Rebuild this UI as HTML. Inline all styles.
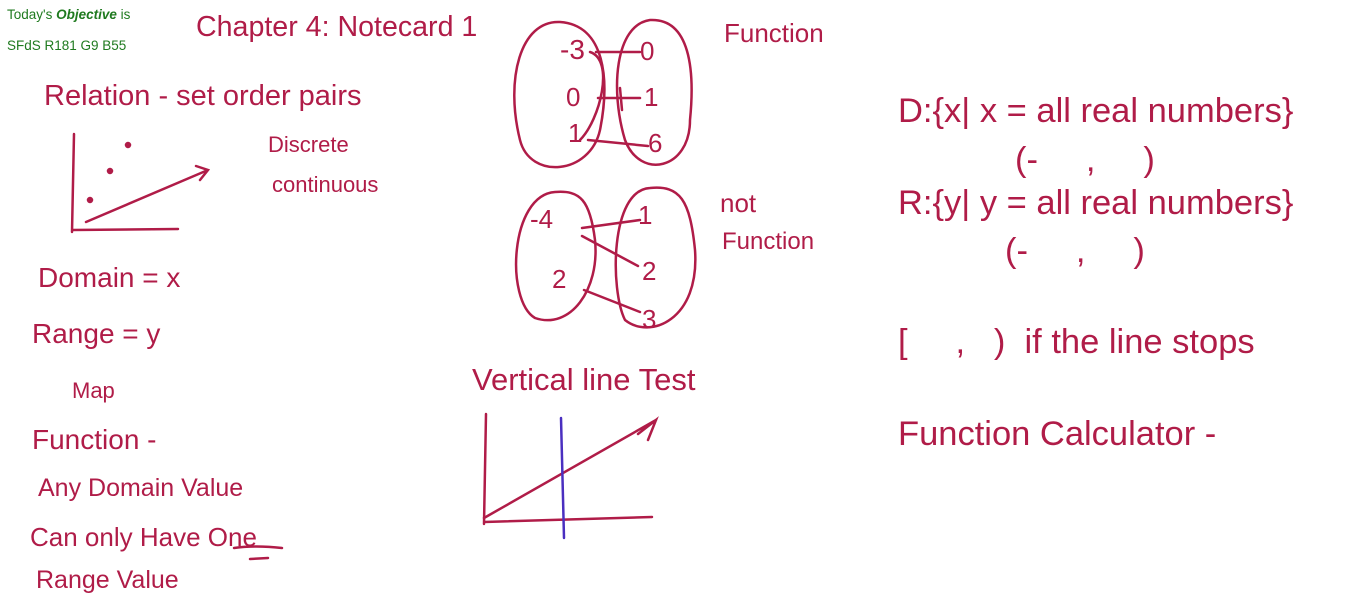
<!DOCTYPE html>
<html><head><meta charset="utf-8"><style>
body{margin:0;width:1366px;height:599px;background:#fff;overflow:hidden;position:relative;font-family:"Liberation Sans",sans-serif}
.t{position:absolute;white-space:pre;color:#b01c48}
.g{position:absolute;color:#1f7a1f;font-size:13.5px}
.h{position:absolute;color:#b01c48;font-family:"Liberation Sans",sans-serif;white-space:pre}
</style></head><body>
<div class="g" style="left:7px;top:7px">Today's <b><i>Objective</i></b> is</div>
<div class="g" style="left:7px;top:38px">SFdS R181 G9 B55</div>
<div class="t" style="left:196px;top:11px;font-size:28.6px">Chapter 4: Notecard 1</div>
<div class="t" style="left:898px;top:92px;font-size:34.5px">D:{x| x = all real numbers}</div>
<div class="t" style="left:1015px;top:141px;font-size:34.5px">(-     ,     )</div>
<div class="t" style="left:898px;top:184px;font-size:34.5px">R:{y| y = all real numbers}</div>
<div class="t" style="left:1005px;top:232px;font-size:34.5px">(-     ,     )</div>
<div class="t" style="left:898px;top:323px;font-size:34.5px">[     ,   )  if the line stops</div>
<div class="t" style="left:898px;top:415px;font-size:34.5px">Function Calculator -</div>

<div class="h" style="left:44px;top:80px;font-size:29px">Relation - set order pairs</div>
<div class="h" style="left:268px;top:132px;font-size:22px">Discrete</div>
<div class="h" style="left:272px;top:172px;font-size:22px">continuous</div>
<div class="h" style="left:38px;top:262px;font-size:28px">Domain = x</div>
<div class="h" style="left:32px;top:318px;font-size:28px">Range = y</div>
<div class="h" style="left:72px;top:378px;font-size:22px">Map</div>
<div class="h" style="left:32px;top:424px;font-size:28px">Function -</div>
<div class="h" style="left:38px;top:474px;font-size:25px">Any Domain Value</div>
<div class="h" style="left:30px;top:522px;font-size:26px">Can only Have One</div>
<div class="h" style="left:36px;top:566px;font-size:25px">Range Value</div>
<div class="h" style="left:724px;top:18px;font-size:26px">Function</div>
<div class="h" style="left:720px;top:188px;font-size:26px">not</div>
<div class="h" style="left:722px;top:228px;font-size:24px">Function</div>
<div class="h" style="left:472px;top:362px;font-size:31px">Vertical line Test</div>
<div class="h" style="left:560px;top:34px;font-size:28px">-3</div>
<div class="h" style="left:566px;top:82px;font-size:26px">0</div>
<div class="h" style="left:568px;top:118px;font-size:26px">1</div>
<div class="h" style="left:640px;top:36px;font-size:26px">0</div>
<div class="h" style="left:644px;top:82px;font-size:26px">1</div>
<div class="h" style="left:648px;top:128px;font-size:26px">6</div>
<div class="h" style="left:530px;top:204px;font-size:26px">-4</div>
<div class="h" style="left:552px;top:264px;font-size:26px">2</div>
<div class="h" style="left:638px;top:200px;font-size:26px">1</div>
<div class="h" style="left:642px;top:256px;font-size:26px">2</div>
<div class="h" style="left:642px;top:304px;font-size:26px">3</div>

<svg width="1366" height="599" style="position:absolute;left:0;top:0" fill="none" stroke="#b01c48" stroke-width="2.5" stroke-linecap="round">
<path d="M74 134 L72 232 M72 230 L178 229"/>
<path d="M86 222 L208 170 M196 166 L208 170 L200 180"/>
<circle cx="128" cy="145" r="2" fill="#b01c48"/><circle cx="110" cy="171" r="2" fill="#b01c48"/><circle cx="90" cy="200" r="2" fill="#b01c48"/>
<path d="M234 548 Q255 545 282 548 M250 559 L268 558"/>
<path d="M560 22 C520 20 505 80 520 140 C530 180 590 175 600 130 C610 80 605 25 560 22Z"/>
<path d="M650 20 C615 25 610 90 625 140 C640 180 690 170 690 120 C695 70 690 18 650 20Z"/>
<path d="M596 52 L640 52 M598 98 L640 98 M620 88 L622 110 M588 140 L648 146 M590 52 C615 60 600 120 580 140"/>
<path d="M555 192 C510 195 505 300 535 318 C570 330 600 290 595 240 C590 200 580 190 555 192Z"/>
<path d="M650 188 C610 190 610 290 625 320 C650 340 700 320 695 250 C690 200 680 185 650 188Z"/>
<path d="M582 228 L640 220 M582 236 L638 266 M584 290 L640 312"/>
<path d="M486 414 L484 524 M484 522 L652 517"/>
<path d="M484 518 L656 420 M638 434 L656 420 L648 440"/>
<path d="M561 418 L564 538" stroke="#4a2fc0"/>
</svg>
</body></html>
